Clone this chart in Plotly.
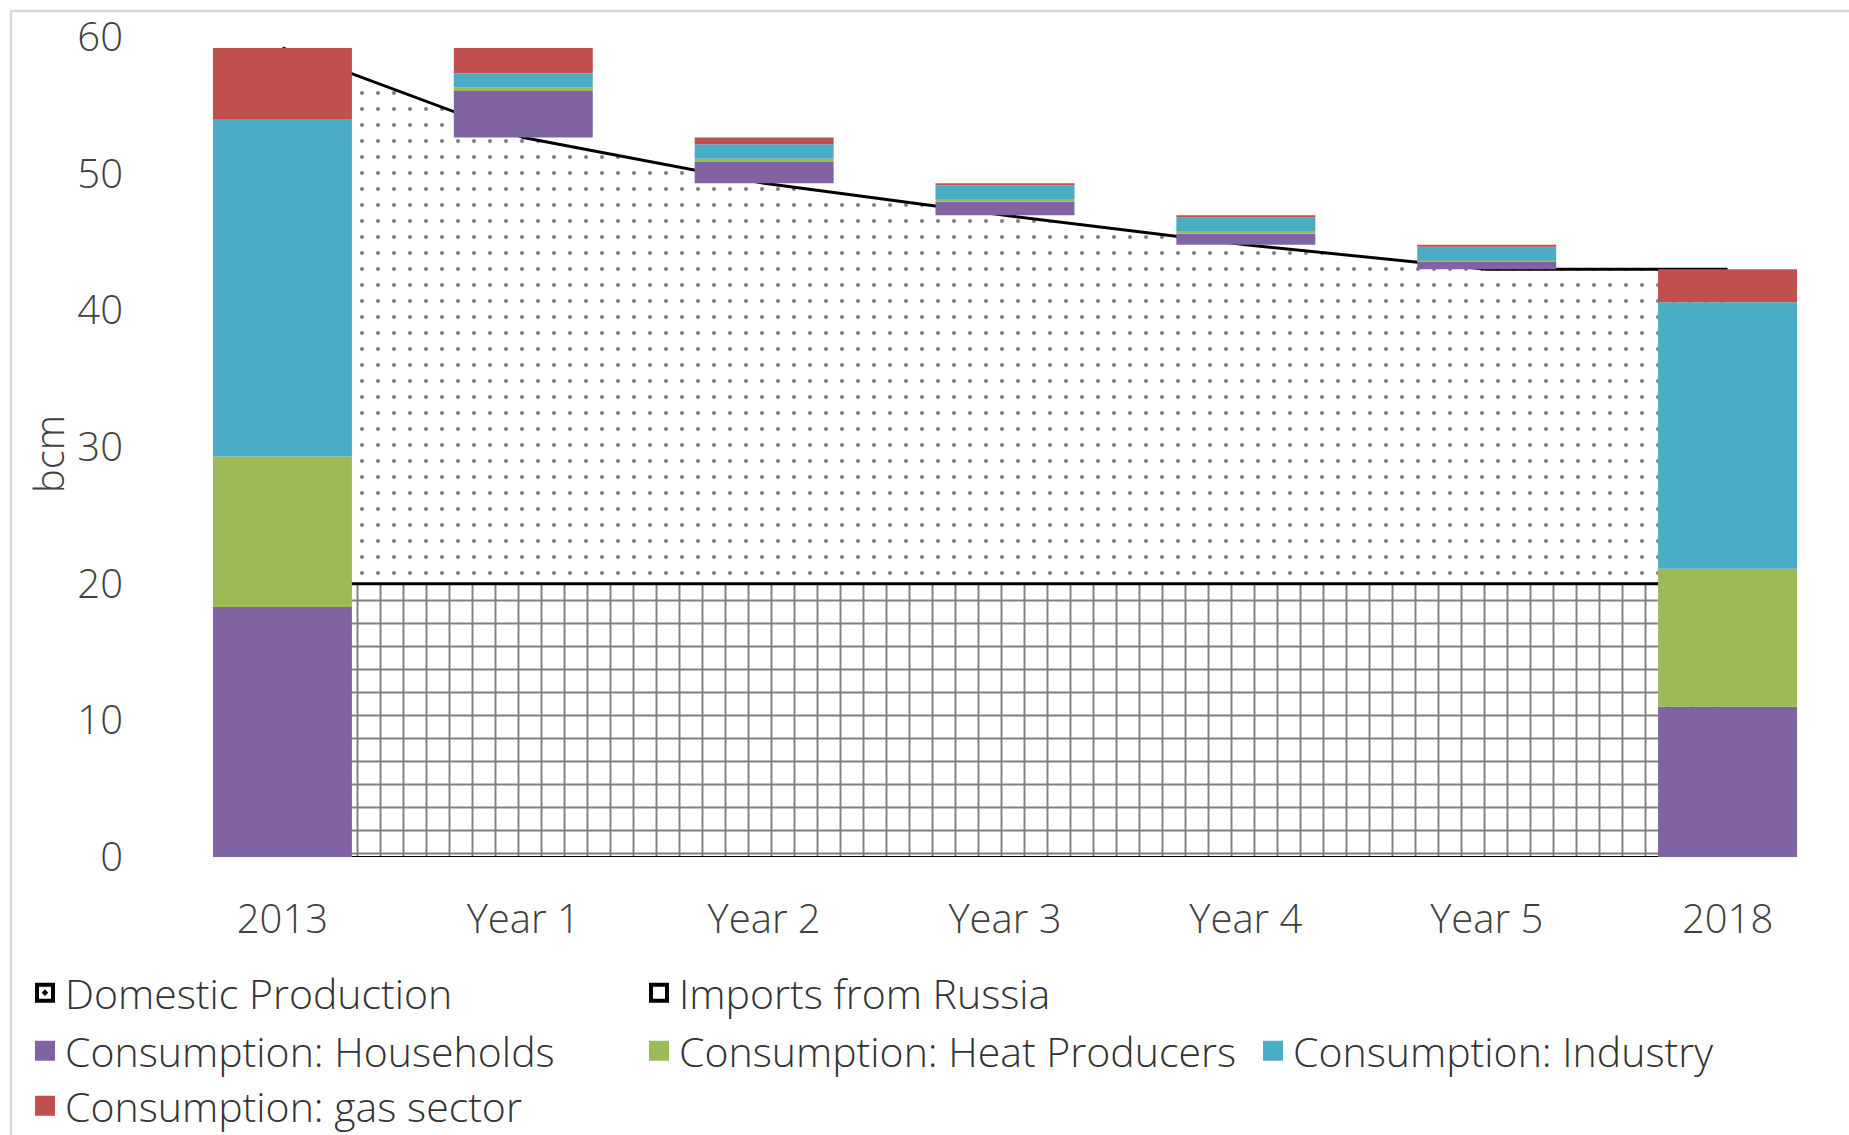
import plotly.graph_objects as go

# Gas balance, bcm: 2013 and 2018 totals with the yearly reductions in between
categories = ["2013", "Year 1", "Year 2", "Year 3", "Year 4", "Year 5", "2018"]
is_total = [True, False, False, False, False, False, True]

households = [18.3, 3.4, 1.55, 1.0, 0.8, 0.55, 11.0]
heat_producers = [11.0, 0.25, 0.25, 0.15, 0.15, 0.1, 10.1]
industry = [24.7, 1.05, 1.05, 1.05, 1.05, 1.0, 19.5]
gas_sector = [5.2, 1.85, 0.5, 0.15, 0.15, 0.15, 2.4]

imports_russia = [20, 20, 20, 20, 20, 20, 20]
domestic_production = [39.2, 32.65, 29.3, 26.95, 24.8, 23.0, 23.0]

PURPLE = "#8064A2"
GREEN = "#9BBB59"
CYAN = "#4BACC6"
RED = "#C0504D"
TEXT = "#404040"
FONT = "Open Sans"
FS = 40

W, H = 1849, 1135
ML, MR, MT, MB = 162, 1, 37, 278
plot_w = W - ML - MR
plot_h = H - MT - MB

supply_total = [i + d for i, d in zip(imports_russia, domestic_production)]

fig = go.Figure()

# Supply areas (drawn behind the bars)
fig.add_trace(go.Scatter(
    x=categories, y=imports_russia, mode="lines",
    line=dict(color="black", width=3),
    fill="tozeroy",
    fillpattern=dict(shape="+", size=23, solidity=0.16,
                     fgcolor="black", bgcolor="white"),
    showlegend=False, hoverinfo="skip", zorder=0,
))
fig.add_trace(go.Scatter(
    x=categories, y=supply_total, mode="lines",
    line=dict(color="black", width=3),
    fill="tonexty",
    fillpattern=dict(shape=".", size=16, solidity=0.05,
                     fgcolor="black", bgcolor="white"),
    showlegend=False, hoverinfo="skip", zorder=0,
))
fig.add_trace(go.Scatter(
    x=categories, y=[0] * len(categories), mode="lines",
    line=dict(color="black", width=2),
    showlegend=False, hoverinfo="skip", zorder=0,
))

# Consumption bars: full stacks for the end years, floating reductions in between
series = [
    ("Consumption: Households", households, PURPLE),
    ("Consumption: Heat Producers", heat_producers, GREEN),
    ("Consumption: Industry", industry, CYAN),
    ("Consumption: gas sector", gas_sector, RED),
]
running = [0.0 if t else s for t, s in zip(is_total, supply_total)]
for name, vals, color in series:
    fig.add_trace(go.Bar(
        x=categories, y=vals, base=list(running), width=0.577,
        marker=dict(color=color, line=dict(width=0)),
        name=name, showlegend=False, zorder=2,
    ))
    running = [r + v for r, v in zip(running, vals)]

# Legend entries, one legend per slot so the grid matches the layout
legend_entries = [
    ("Domestic Production", dict(symbol="square-open-dot", color="black", size=16,
                                 line=dict(width=4, color="black")), 0, 0),
    ("Imports from Russia", dict(symbol="square-open", color="black", size=16,
                                 line=dict(width=4, color="black")), 0, 1),
    ("Consumption: Households", dict(symbol="square", color=PURPLE, size=16,
                                     line=dict(width=4, color=PURPLE)), 1, 0),
    ("Consumption: Heat Producers", dict(symbol="square", color=GREEN, size=16,
                                         line=dict(width=4, color=GREEN)), 1, 1),
    ("Consumption: Industry", dict(symbol="square", color=CYAN, size=16,
                                   line=dict(width=4, color=CYAN)), 1, 2),
    ("Consumption: gas sector", dict(symbol="square", color=RED, size=16,
                                     line=dict(width=4, color=RED)), 2, 0),
]
row_y = [993, 1051, 1106]
col_x = [47, 661, 1275]
legend_layouts = {}
for k, (name, marker, r, c) in enumerate(legend_entries):
    key = "legend" if k == 0 else f"legend{k + 1}"
    fig.add_trace(go.Scatter(
        x=[None], y=[None], mode="markers", marker=marker,
        name=name, legend=key, showlegend=True,
    ))
    legend_layouts[key] = dict(
        xref="container", yref="container",
        x=(col_x[c] - 22) / W, y=1 - row_y[r] / H,
        xanchor="left", yanchor="middle",
        bgcolor="rgba(0,0,0,0)", borderwidth=0,
        font=dict(family=FONT, size=FS + 1, color="#333333", weight=300),
    )

fig.update_layout(
    width=W, height=H,
    margin=dict(l=ML, r=MR, t=MT, b=MB, autoexpand=False),
    paper_bgcolor="white", plot_bgcolor="white",
    font=dict(family=FONT, size=FS, color=TEXT, weight=300),
    barmode="overlay",
    xaxis=dict(
        type="category", range=[-0.5, len(categories) - 0.5],
        showline=True, linecolor="#d9d9d9", linewidth=1.5,
        showgrid=False, zeroline=False, ticks="",
        tickfont=dict(family=FONT, size=FS, color=TEXT, weight=300),
        ticklabelstandoff=26,
    ),
    yaxis=dict(
        range=[0, 60], dtick=10, showgrid=False, zeroline=False,
        showline=False, ticks="",
        tickfont=dict(family=FONT, size=FS, color=TEXT, weight=300),
        ticklabelstandoff=38,
    ),
    annotations=[dict(
        text="bcm", xref="paper", yref="paper",
        x=(48 - ML) / plot_w, y=(H - MB - 454) / plot_h,
        xanchor="center", yanchor="middle",
        textangle=-90, showarrow=False,
        font=dict(family=FONT, size=FS, color=TEXT, weight=300),
    )],
    shapes=[dict(
        type="rect", xref="paper", yref="paper",
        x0=(11 - ML) / plot_w, x1=1.2,
        y0=-0.6, y1=(H - MB - 11) / plot_h,
        line=dict(color="#d9d9d9", width=2.5), fillcolor="rgba(0,0,0,0)",
        layer="below",
    )],
    showlegend=True,
    **legend_layouts,
)

fig.write_html("out.html")
